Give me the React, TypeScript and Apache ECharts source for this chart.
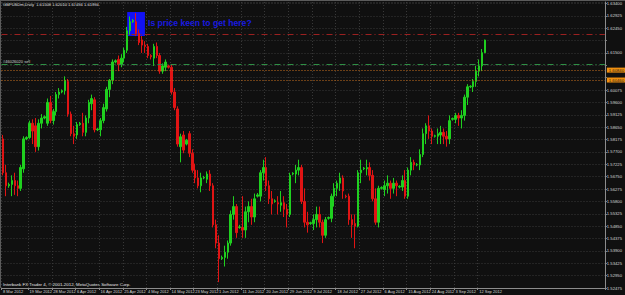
import React, { useEffect, useRef } from "react";
import * as echarts from "echarts";

const TITLE = "GBPUSDm,Daily  1.61508 1.62010 1.61494 1.61994";
const COPYRIGHT = "Interbank FX Trader 4, © 2001-2012, MetaQuotes Software Corp.";
const NOTE = "Is price keen to get here?";
const ORDER_LABEL = "#46026020 sell";

// [day, open, close, low, high]
const mar2012 = [
  [8, 1.582, 1.569, 1.568, 1.5835],
  [9, 1.569, 1.564, 1.56, 1.572],
  [11, 1.564, 1.5645, 1.5632, 1.5652],
  [12, 1.5645, 1.566, 1.56, 1.568],
  [13, 1.566, 1.564, 1.5605, 1.569],
  [14, 1.564, 1.563, 1.56, 1.566],
  [15, 1.563, 1.571, 1.562, 1.572],
  [16, 1.5705, 1.582, 1.569, 1.583],
  [18, 1.582, 1.5825, 1.5815, 1.583],
  [19, 1.5825, 1.588, 1.582, 1.589],
  [20, 1.588, 1.585, 1.58, 1.5895],
  [21, 1.587, 1.579, 1.577, 1.59],
  [22, 1.579, 1.588, 1.5775, 1.5895],
  [23, 1.588, 1.59, 1.586, 1.5915],
  [25, 1.59, 1.5905, 1.5895, 1.591],
  [26, 1.588, 1.596, 1.587, 1.5975],
  [27, 1.596, 1.589, 1.588, 1.5985],
  [28, 1.589, 1.5925, 1.5875, 1.5935],
  [29, 1.5925, 1.599, 1.591, 1.6],
  [30, 1.599, 1.6, 1.5975, 1.6015],
];
const apr2012 = [
  [1, 1.6, 1.6005, 1.5995, 1.601],
  [2, 1.6005, 1.6045, 1.599, 1.606],
  [3, 1.604, 1.5915, 1.5905, 1.605],
  [4, 1.5915, 1.584, 1.583, 1.5925],
  [5, 1.584, 1.583, 1.58, 1.587],
  [6, 1.5835, 1.5875, 1.582, 1.5885],
  [8, 1.5875, 1.588, 1.587, 1.5885],
  [9, 1.588, 1.5845, 1.583, 1.592],
  [10, 1.5845, 1.59, 1.583, 1.591],
  [11, 1.59, 1.596, 1.588, 1.597],
  [12, 1.5955, 1.5975, 1.593, 1.599],
  [13, 1.597, 1.5855, 1.5845, 1.598],
  [15, 1.5855, 1.5858, 1.585, 1.5862],
  [16, 1.5855, 1.589, 1.583, 1.59],
  [17, 1.589, 1.594, 1.588, 1.5955],
  [18, 1.5935, 1.601, 1.5925, 1.602],
  [19, 1.601, 1.6045, 1.598, 1.605],
  [20, 1.6045, 1.6115, 1.603, 1.6125],
  [22, 1.6115, 1.612, 1.611, 1.6125],
  [23, 1.6125, 1.6105, 1.608, 1.614],
  [24, 1.6105, 1.613, 1.6095, 1.6145],
  [25, 1.613, 1.616, 1.6115, 1.617],
  [26, 1.616, 1.6235, 1.615, 1.625],
  [27, 1.6235, 1.627, 1.622, 1.629],
  [29, 1.627, 1.6275, 1.6265, 1.628],
  [30, 1.627, 1.6225, 1.6215, 1.6303],
];
const may2012 = [
  [1, 1.6225, 1.619, 1.618, 1.624],
  [2, 1.62, 1.618, 1.615, 1.6215],
  [3, 1.618, 1.6175, 1.615, 1.6195],
  [4, 1.6175, 1.614, 1.613, 1.6185],
  [6, 1.614, 1.6135, 1.6125, 1.6145],
  [7, 1.613, 1.6175, 1.61, 1.6185],
  [8, 1.6175, 1.614, 1.613, 1.619],
  [9, 1.614, 1.608, 1.607, 1.615],
  [10, 1.608, 1.61, 1.607, 1.611],
  [11, 1.6095, 1.6115, 1.608, 1.6125],
  [13, 1.61, 1.6095, 1.609, 1.6105],
  [14, 1.6095, 1.6, 1.599, 1.6105],
  [15, 1.6, 1.594, 1.593, 1.6015],
  [16, 1.5935, 1.58, 1.579, 1.5945],
  [17, 1.579, 1.5828, 1.573, 1.584],
  [18, 1.5835, 1.5777, 1.5765, 1.585],
  [20, 1.58, 1.5815, 1.5795, 1.582],
  [21, 1.584, 1.5765, 1.575, 1.585],
  [22, 1.5765, 1.57, 1.569, 1.578],
  [23, 1.57, 1.567, 1.565, 1.5725],
  [24, 1.567, 1.564, 1.563, 1.57],
  [25, 1.564, 1.567, 1.5615, 1.569],
  [27, 1.567, 1.5672, 1.5665, 1.5678],
  [28, 1.5665, 1.5685, 1.565, 1.5695],
  [29, 1.5685, 1.564, 1.562, 1.57],
  [30, 1.564, 1.549, 1.548, 1.565],
  [31, 1.549, 1.542, 1.54, 1.551],
];
const jun2012 = [
  [1, 1.542, 1.536, 1.527, 1.545],
  [3, 1.536, 1.5365, 1.5355, 1.5372],
  [4, 1.5365, 1.5385, 1.533, 1.541],
  [5, 1.5385, 1.542, 1.536, 1.543],
  [6, 1.542, 1.553, 1.541, 1.5545],
  [7, 1.553, 1.556, 1.551, 1.56],
  [8, 1.556, 1.546, 1.544, 1.557],
  [10, 1.548, 1.5482, 1.5475, 1.549],
  [11, 1.548, 1.547, 1.544, 1.56],
  [12, 1.547, 1.554, 1.544, 1.556],
  [13, 1.554, 1.556, 1.55, 1.558],
  [14, 1.556, 1.552, 1.549, 1.559],
  [15, 1.552, 1.559, 1.55, 1.561],
  [17, 1.56, 1.5605, 1.5595, 1.5612],
  [18, 1.56, 1.569, 1.558, 1.57],
  [19, 1.569, 1.571, 1.566, 1.574],
  [20, 1.571, 1.564, 1.562, 1.575],
  [21, 1.564, 1.559, 1.557, 1.566],
  [22, 1.559, 1.557, 1.553, 1.562],
  [24, 1.558, 1.5582, 1.5575, 1.5588],
  [25, 1.5575, 1.557, 1.553, 1.56],
  [26, 1.5565, 1.5575, 1.554, 1.562],
  [27, 1.5575, 1.555, 1.552, 1.56],
  [28, 1.555, 1.553, 1.548, 1.557],
  [29, 1.553, 1.568, 1.552, 1.569],
];
const jul2012 = [
  [1, 1.5685, 1.5688, 1.568, 1.5692],
  [2, 1.5685, 1.57, 1.565, 1.572],
  [3, 1.57, 1.571, 1.568, 1.574],
  [4, 1.571, 1.558, 1.557, 1.572],
  [5, 1.558, 1.55, 1.548, 1.563],
  [6, 1.55, 1.549, 1.546, 1.554],
  [8, 1.5495, 1.5498, 1.549, 1.5502],
  [9, 1.5495, 1.551, 1.547, 1.553],
  [10, 1.551, 1.553, 1.548, 1.556],
  [11, 1.553, 1.55, 1.548, 1.556],
  [12, 1.55, 1.545, 1.542, 1.551],
  [13, 1.545, 1.551, 1.544, 1.552],
  [15, 1.5515, 1.5518, 1.551, 1.5522],
  [16, 1.5515, 1.56, 1.55, 1.561],
  [17, 1.56, 1.563, 1.556, 1.565],
  [18, 1.563, 1.565, 1.56, 1.566],
  [19, 1.565, 1.567, 1.562, 1.569],
  [20, 1.567, 1.562, 1.559, 1.568],
  [22, 1.56, 1.5598, 1.5592, 1.5606],
  [23, 1.56, 1.551, 1.549, 1.561],
  [24, 1.551, 1.549, 1.544, 1.553],
  [25, 1.5495, 1.5485, 1.54, 1.553],
  [26, 1.5485, 1.569, 1.548, 1.57],
  [27, 1.569, 1.57, 1.565, 1.574],
  [29, 1.5705, 1.5708, 1.57, 1.5712],
  [30, 1.5705, 1.571, 1.568, 1.574],
  [31, 1.571, 1.568, 1.566, 1.573],
];
const aug2012 = [
  [1, 1.568, 1.559, 1.558, 1.57],
  [2, 1.559, 1.55, 1.549, 1.563],
  [3, 1.55, 1.563, 1.548, 1.564],
  [5, 1.563, 1.5633, 1.5625, 1.5638],
  [6, 1.5625, 1.564, 1.56, 1.566],
  [7, 1.564, 1.565, 1.561, 1.568],
  [8, 1.565, 1.563, 1.559, 1.566],
  [9, 1.563, 1.565, 1.561, 1.567],
  [10, 1.565, 1.564, 1.56, 1.566],
  [12, 1.5635, 1.5638, 1.563, 1.5642],
  [13, 1.5635, 1.566, 1.562, 1.568],
  [14, 1.566, 1.56, 1.559, 1.57],
  [15, 1.56, 1.57, 1.559, 1.571],
  [16, 1.57, 1.573, 1.568, 1.575],
  [17, 1.573, 1.572, 1.57, 1.574],
  [19, 1.572, 1.5722, 1.5715, 1.5727],
  [20, 1.572, 1.576, 1.57, 1.578],
  [21, 1.576, 1.584, 1.575, 1.586],
  [22, 1.584, 1.587, 1.58, 1.588],
  [23, 1.587, 1.585, 1.582, 1.591],
  [24, 1.585, 1.583, 1.58, 1.586],
  [26, 1.583, 1.5832, 1.5825, 1.5836],
  [27, 1.583, 1.584, 1.58, 1.586],
  [28, 1.5835, 1.5845, 1.58, 1.587],
  [29, 1.5845, 1.583, 1.58, 1.586],
  [30, 1.583, 1.582, 1.579, 1.585],
  [31, 1.582, 1.589, 1.58, 1.591],
];
const sep2012 = [
  [2, 1.5895, 1.5898, 1.589, 1.5902],
  [3, 1.5895, 1.591, 1.588, 1.592],
  [4, 1.591, 1.59, 1.587, 1.592],
  [5, 1.59, 1.591, 1.586, 1.593],
  [6, 1.591, 1.598, 1.589, 1.599],
  [7, 1.598, 1.602, 1.595, 1.603],
  [9, 1.602, 1.6022, 1.6015, 1.6026],
  [10, 1.602, 1.604, 1.6, 1.605],
  [11, 1.604, 1.608, 1.602, 1.61],
  [12, 1.608, 1.61, 1.606, 1.6125],
  [13, 1.61, 1.6151, 1.608, 1.6165],
  [14, 1.61508, 1.61994, 1.61494, 1.6201],
];

const monthBars: [string, number[][]][] = [
  ["Mar", mar2012],
  ["Apr", apr2012],
  ["May", may2012],
  ["Jun", jun2012],
  ["Jul", jul2012],
  ["Aug", aug2012],
  ["Sep", sep2012],
];

const xLabels = [
  "8 Mar 2012", "19 Mar 2012", "28 Mar 2012", "6 Apr 2012", "16 Apr 2012",
  "25 Apr 2012", "4 May 2012", "14 May 2012", "23 May 2012", "1 Jun 2012",
  "11 Jun 2012", "20 Jun 2012", "29 Jun 2012", "9 Jul 2012", "18 Jul 2012",
  "27 Jul 2012", "6 Aug 2012", "15 Aug 2012", "24 Aug 2012", "3 Sep 2012",
  "12 Sep 2012",
];

// price scale (right axis)
const Y_MIN = 1.52475;
const Y_MAX = 1.63455;
const Y_STEP = 0.00475;
const X_SLOTS = 204; // visible bar slots incl. empty chart shift

// horizontal levels
const resistanceLevel = 1.6223;
const sellLevel = 1.6107;
const orderLevels = [1.6084, 1.6046];
const bidPrice = 1.61994;
// highlighted zone
const zoneStart = "26 Apr 2012";
const zoneEnd = "3 May 2012";
const zoneTop = 1.6307;
const zoneBottom = 1.6215;

const categories: string[] = [];
const candles: number[][] = [];
monthBars.forEach(([mon, rows]) => {
  rows.forEach(([d, o, c, l, h]) => {
    categories.push(`${d} ${mon} 2012`);
    candles.push([o, c, l, h]);
  });
});

const showLabel = (_idx: number, value: string) => xLabels.includes(value);

const FONT = "Liberation Sans, Arial, sans-serif";
const PLOT_H = 286;
const boxedLevels = [bidPrice, ...orderLevels];
const tickLabel = (v: number) => {
  const pxPerUnit = PLOT_H / (Y_MAX - Y_MIN);
  const near = boxedLevels.some((lv) => Math.abs(v - lv) * pxPerUnit < 6.5);
  return near ? "" : v.toFixed(5);
};

const boxLabel = (bg: string, fg: string) => ({
  show: true,
  position: "end",
  distance: 2,
  formatter: (p: any) => Number(p.value).toFixed(5),
  backgroundColor: bg,
  color: fg,
  fontSize: 4.2,
  fontFamily: FONT,
  padding: [0.5, 2],
});

export default function App() {
  const ref = useRef<HTMLDivElement>(null);
  useEffect(() => {
    const chart = echarts.init(ref.current!, null, { renderer: "svg" });
    const option: any = {
      animation: false,
      backgroundColor: "#101010",
      grid: { left: -2, right: 15, top: 2, bottom: 7, show: false },
      xAxis: {
        type: "category",
        data: categories,
        max: X_SLOTS - 1,
        boundaryGap: true,
        axisLine: { show: true, lineStyle: { color: "#8c8c8c", width: 1 } },
        axisTick: { show: true, interval: showLabel, length: 2, lineStyle: { color: "#8c8c8c" } },
        axisLabel: {
          interval: showLabel,
          color: "#d6d6d6",
          fontSize: 4,
          fontFamily: FONT,
          align: "left",
          margin: 1.5,
        },
        splitLine: {
          show: true,
          interval: showLabel,
          lineStyle: { color: "#383838", type: [1, 2], width: 1 },
        },
      },
      yAxis: {
        type: "value",
        position: "right",
        min: Y_MIN,
        max: Y_MAX,
        interval: Y_STEP,
        axisLine: { show: true, lineStyle: { color: "#8c8c8c", width: 1 } },
        axisTick: { show: true, length: 2, lineStyle: { color: "#8c8c8c" } },
        axisLabel: {
          color: "#d6d6d6",
          fontSize: 4.2,
          fontFamily: FONT,
          margin: 2,
          formatter: tickLabel,
        },
        splitLine: {
          show: true,
          lineStyle: { color: "#383838", type: [1, 2], width: 1 },
        },
      },
      series: [
        {
          type: "candlestick",
          data: candles,
          barWidth: 2,
          itemStyle: {
            color: "#1fd01f",
            color0: "#e01414",
            borderColor: "#1fd01f",
            borderColor0: "#e01414",
            borderWidth: 1,
          },
          markArea: {
            silent: true,
            itemStyle: { color: "#1212f5", opacity: 1 },
            data: [[{ xAxis: zoneStart, yAxis: zoneTop }, { xAxis: zoneEnd, yAxis: zoneBottom }]],
          },
          markLine: {
            silent: true,
            precision: 5,
            symbol: ["none", "none"],
            animation: false,
            data: [
              {
                yAxis: resistanceLevel,
                lineStyle: { color: "#9b2020", type: [6, 3, 1, 3], width: 1 },
                label: { show: false },
              },
              {
                yAxis: sellLevel,
                lineStyle: { color: "#2f8f45", type: [6, 3, 1, 3], width: 1 },
                label: { show: false },
              },
              ...orderLevels.map((lv) => ({
                yAxis: lv,
                lineStyle: { color: "#c8701e", type: [1, 2], width: 1 },
                label: boxLabel("#f09010", "#1a1a1a"),
              })),
              {
                yAxis: bidPrice,
                lineStyle: { opacity: 0 },
                label: boxLabel("#f2f2f2", "#111111"),
              },
            ],
          },
        },
      ],
      graphic: [
        { type: "line", silent: true, shape: { x1: 0, y1: 0.5, x2: 625, y2: 0.5 }, style: { stroke: "#5c5c5c", lineWidth: 1 } },
        { type: "line", silent: true, shape: { x1: 0.5, y1: 0, x2: 0.5, y2: 288 }, style: { stroke: "#5c5c5c", lineWidth: 1 } },
        {
          type: "text", left: 3, top: 2, silent: true,
          style: { text: TITLE, fill: "#e0e0e0", font: `4.1px ${FONT}` },
        },
        {
          type: "text", left: 3, top: 59.5, silent: true,
          style: { text: ORDER_LABEL, fill: "#d0d0d0", font: `4px ${FONT}` },
        },
        {
          type: "text", left: 148, top: 18, silent: true,
          style: { text: NOTE, fill: "#1a1ae0", font: `bold 8.6px ${FONT}` },
        },
        {
          type: "text", left: 3, top: 282.5, silent: true,
          style: { text: COPYRIGHT, fill: "#e6e6e6", font: `4.4px ${FONT}` },
        },
      ],
    };
    chart.setOption(option);
    return () => chart.dispose();
  }, []);
  return (
    <div
      ref={ref}
      style={{ position: "fixed", left: 0, top: 0, width: 625, height: 295 }}
    />
  );
}
